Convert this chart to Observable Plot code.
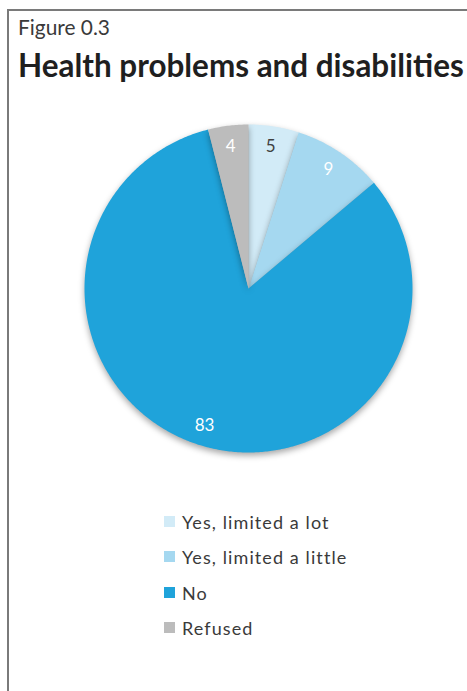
<!DOCTYPE html>
<html>
<head>
<meta charset="utf-8">
<script src="https://cdn.jsdelivr.net/npm/d3@7"></script>
<script src="https://cdn.jsdelivr.net/npm/@observablehq/plot@0.6"></script>
<style>
  html, body { margin: 0; padding: 0; background: #fff; width: 467px; height: 691px; overflow: hidden; }
  #frame { position: absolute; left: 7px; top: 9px; width: 700px; height: 900px;
           border-left: 2px solid #7a7a7a; border-top: 2px solid #7a7a7a; }
  #fig { position: absolute; left: 18px; top: 17px; font-family: Lato, "Open Sans", sans-serif;
         color: #3a3a3a; font-size: 15px; line-height: 1; white-space: nowrap; }
  #title { position: absolute; left: 18px; top: 50px; font-family: Lato, "Open Sans", sans-serif;
           font-weight: 700; color: #1f1f1f; font-size: 26px; line-height: 1; white-space: nowrap; }
  #chart { position: absolute; left: 0; top: 100px; }
  #chart svg path { filter: drop-shadow(0px 3px 3px rgba(0,0,0,0.35)); }
  #legend { position: absolute; left: 164px; top: 511px; font-family: Lato, "Open Sans", sans-serif;
            color: #3a3a3a; font-size: 18px; letter-spacing: 1.1px; }
  .row { height: 35.3px; display: flex; align-items: flex-start; }
  .sw { width: 11px; height: 11px; margin-top: 5px; margin-right: 7px; }
</style>
</head>
<body>
<div id="frame"></div>
<div id="fig">Figure 0.3</div>
<div id="title">Health problems and disabilities</div>
<div id="chart"></div>
<div id="legend"></div>
<script>
const categories = ["Yes, limited a lot", "Yes, limited a little", "No", "Refused"];
const values = [5, 9, 83, 4];
const colors = ["#d2ebf7", "#a5d8f0", "#1fa3da", "#bcbcbc"];
const labelColors = ["#404040", "#ffffff", "#ffffff", "#ffffff"];

// fit title text widths to reference
function fit(el, target) {
  const w = el.getBoundingClientRect().width;
  const fs = parseFloat(getComputedStyle(el).fontSize);
  el.style.fontSize = (fs * target / w) + "px";
}
fit(document.getElementById("fig"), 92);
fit(document.getElementById("title"), 446);

// pie geometry from the data
const pie = d3.pie().sort(null).value(d => d.value)(categories.map((c, i) => ({cat: c, value: values[i]})));
const pts = [];
const labels = [];
pie.forEach((s, i) => {
  const n = Math.max(4, Math.ceil((s.endAngle - s.startAngle) / 0.01));
  pts.push({cat: s.data.cat, x: 0, y: 0});
  for (let k = 0; k <= n; k++) {
    const a = s.startAngle + (s.endAngle - s.startAngle) * k / n;
    pts.push({cat: s.data.cat, x: Math.sin(a), y: Math.cos(a)});
  }
  const m = (s.startAngle + s.endAngle) / 2;
  labels.push({cat: s.data.cat, value: s.data.value, x: 0.875 * Math.sin(m), y: 0.875 * Math.cos(m), c: labelColors[i]});
});

const cx = 248, cy = 188, r = 164;
const chart = Plot.plot({
  width: 467,
  height: 380,
  margin: 0,
  x: {domain: [-1, 1], range: [cx - r, cx + r], axis: null},
  y: {domain: [-1, 1], range: [cy + r, cy - r], axis: null},
  color: {domain: categories, range: colors},
  marks: [
    Plot.line(pts, {x: "x", y: "y", z: "cat", fill: "cat", stroke: "none", curve: "linear-closed"}),
    Plot.text(labels, {x: "x", y: "y", text: d => String(d.value), fill: d => d.c,
      fontSize: 17, fontFamily: "Lato, 'Open Sans', sans-serif", letterSpacing: 1})
  ]
});
document.getElementById("chart").appendChild(chart);

const legend = document.getElementById("legend");
categories.forEach((c, i) => {
  const row = document.createElement("div");
  row.className = "row";
  const sw = document.createElement("div");
  sw.className = "sw";
  sw.style.background = colors[i];
  const t = document.createElement("span");
  t.textContent = c;
  row.appendChild(sw);
  row.appendChild(t);
  legend.appendChild(row);
});
</script>
</body>
</html>
